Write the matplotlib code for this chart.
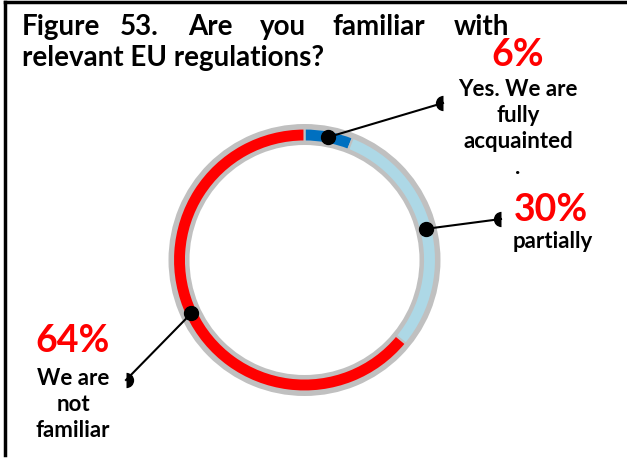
import matplotlib.pyplot as plt
from matplotlib.patches import Wedge
from matplotlib.lines import Line2D
import numpy as np

W, H = 627, 459

title_line1 = ["Figure", "53.", "Are", "you", "familiar", "with"]
title_line2 = "relevant EU regulations?"
values = [6, 30, 64]
pct_labels = ["6%", "30%", "64%"]
labels = ["Yes. We are\nfully\nacquainted\n.", "partially", "We are\nnot\nfamiliar"]
colors = ["#0070C0", "#ADD8E6", "#FF0000"]

font = "Lato"

fig = plt.figure(figsize=(W / 100, H / 100), dpi=100)
ax = fig.add_axes([0, 0, 1, 1])


def Y(y):
    # pixel row (from top) -> data y
    return H - y


# ring
cx, cy = 304.5, Y(260)
ax.add_patch(Wedge((cx, cy), 136, 0, 360, width=21, color="#C0C0C0", lw=0))
wedges, _ = ax.pie(values, colors=colors, startangle=90, counterclock=False,
                   center=(cx, cy), radius=131.5, frame=True,
                   wedgeprops=dict(width=13, edgecolor="#C0C0C0", linewidth=1.5))
ax.set_xlim(0, W)
ax.set_ylim(0, H)
ax.set_aspect("equal")
ax.axis("off")

# leader lines: end point (pixels), label side
ends = [(443, 103, "right"), (501, 219, "right"), (126, 380, "left")]
cum = np.cumsum([0] + values[:-1])
total = sum(values)
for i, v in enumerate(values):
    mid = np.deg2rad(90 - 360 * (cum[i] + v / 2) / total)
    px, py = cx + 125 * np.cos(mid), cy + 125 * np.sin(mid)
    ex, ey, side = ends[i]
    ax.plot([px, ex], [py, Y(ey)], color="black", lw=1.5, zorder=4)
    ax.plot(px, py, "o", color="black", ms=10, zorder=5)
    ax.plot(ex, Y(ey), "o", ms=11, color="black", mec="none",
            fillstyle="left" if side == "right" else "right",
            markerfacecoloralt="none", zorder=5)

# percentages and labels
pct_pos = [(518, 55), (551, 210), (73, 341)]
lab_pos = [(518, 90), (553, 242), (73, 379)]
for i in range(3):
    ax.text(pct_pos[i][0], Y(pct_pos[i][1]), pct_labels[i], color="#FF0000",
            fontsize=27, fontweight="bold", family=font, ha="center", va="center")
    ax.text(lab_pos[i][0], Y(lab_pos[i][1]) + 11, labels[i], color="black",
            fontsize=16, fontweight="bold", family=font, ha="center", va="top",
            linespacing=1.3)

# title (justified first line)
word_x = [22, 120, 188, 260, 332, 454]
for wx, w in zip(word_x, title_line1):
    ax.text(wx, Y(27), w, fontsize=20, fontweight="bold", family=font,
            ha="left", va="center")
ax.text(22, Y(58), title_line2, fontsize=20, fontweight="bold", family=font,
        ha="left", va="center")

# border (top and left)
fig.add_artist(Line2D([5 / W, 1], [1 - 2 / H, 1 - 2 / H], color="black", lw=2.5))
fig.add_artist(Line2D([5 / W, 5 / W], [1 - 2 / H, 1 - 455 / H], color="black", lw=2.5))

fig.savefig("out.png", dpi=100)
